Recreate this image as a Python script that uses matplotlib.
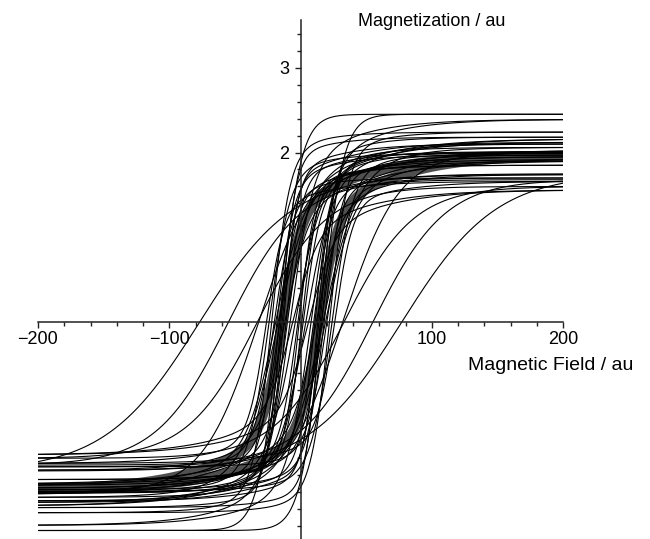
import numpy as np
import matplotlib
matplotlib.use("Agg")
import matplotlib.pyplot as plt
from matplotlib.ticker import MultipleLocator, FixedLocator

# ---- data: per-loop parameters ----
# coercive field (zero crossing of each branch is at -hc / +hc)
loop_hc = [16, 8, 22, 4, 14, 10, 24, 2, 19, 12, 26, 6, 17, 1, 77, 55, 33, 32,
           15, 18, 13, 20, 11, 16]
# steep width of the switch
loop_w1 = [16, 18, 14, 20, 12, 13, 16, 14, 22, 18, 14, 20, 26, 12, 72, 55, 53, 43,
           11, 13, 10, 15, 12, 14]
# width of the slow tail towards saturation
loop_w2 = [16, 70, 50, 80, 60, 90, 60, 70, 80, 60, 70, 80, 60, 60, 72, 55, 53, 43,
           50, 60, 70, 50, 60, 80]
# fraction of the slow tail
loop_f = [0.0, 0.2, 0.1, 0.25, 0.15, 0.3, 0.1, 0.2, 0.2, 0.25, 0.15, 0.3, 0.2, 0.1,
          0.0, 0.0, 0.0, 0.0, 0.1, 0.15, 0.2, 0.1, 0.15, 0.2]
# saturation magnetization (plateau levels)
loop_ms = [2.45, 2.39, 2.24, 2.16, 2.10, 2.03, 1.99, 1.95, 1.92, 1.74, 1.66, 1.56,
           2.06, 1.85, 1.75, 1.68, 1.60, 2.00, 2.18, 1.97, 2.12, 1.70, 2.01, 1.90]

# thick grey (mean) loop
mean_hc, mean_w1, mean_w2, mean_f, mean_ms = 14, 15, 80, 0.34, 1.97

x_major = [-200, -100, 100, 200]
y_major = [2, 3]
x_label = "Magnetic Field / au"
y_label = "Magnetization / au"

field = np.linspace(-200, 200, 801)


def branch(h, hc, w1, w2, f, ms, up):
    d = h - hc if up else h + hc
    return ms * ((1 - f) * np.tanh(d / w1) + f * np.tanh(d / w2))


W, H = 650, 539
fig = plt.figure(figsize=(W / 100, H / 100), dpi=100)
ax = fig.add_axes([38 / W, 0, 525 / W, 519 / H])
ax.set_xlim(-200, 200)
ax.set_ylim(-2.55, 3.56)

# grey mean loop
for up in (True, False):
    ax.plot(field, branch(field, mean_hc, mean_w1, mean_w2, mean_f, mean_ms, up),
            color="#505050", lw=7.0, solid_capstyle="butt", zorder=2)

# thin loops
for hc, w1, w2, f, ms in zip(loop_hc, loop_w1, loop_w2, loop_f, loop_ms):
    for up in (True, False):
        ax.plot(field, branch(field, hc, w1, w2, f, ms, up),
                color="black", lw=0.8, zorder=3)

for s in ("top", "right"):
    ax.spines[s].set_visible(False)
ax.spines["left"].set_position(("data", 0))
ax.spines["bottom"].set_position(("data", 0))
for s in ("left", "bottom"):
    ax.spines[s].set_linewidth(1.1)
    ax.spines[s].set_color("#222222")
    ax.spines[s].set_zorder(4)

ax.xaxis.set_major_locator(FixedLocator(x_major))
ax.xaxis.set_minor_locator(MultipleLocator(20))
ax.yaxis.set_major_locator(FixedLocator(y_major))
ax.yaxis.set_minor_locator(MultipleLocator(0.2))
ax.tick_params(axis="both", which="major", direction="out", length=4, width=1,
               color="#222222", labelsize=13)
ax.tick_params(axis="both", which="minor", direction="out", length=3, width=1,
               color="#222222")
ax.tick_params(axis="x", which="major", pad=2)
ax.tick_params(axis="y", which="major", pad=4)
for lab in ax.get_xticklabels() + ax.get_yticklabels():
    lab.set_family("Liberation Sans")

fig.text(432 / W, 1 - 22 / H, y_label, ha="center", va="center",
         fontsize=13, family="Liberation Sans")
fig.text(551 / W, 1 - 366 / H, x_label, ha="center", va="center",
         fontsize=14, family="Liberation Sans")

fig.savefig("out.png", dpi=100)
